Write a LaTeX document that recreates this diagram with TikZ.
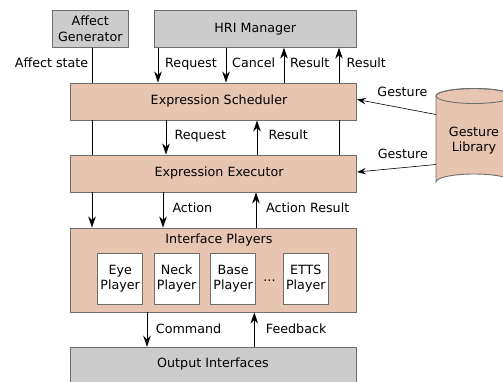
\documentclass[tikz,border=0pt]{standalone}
\usepackage{fontspec}
\setmainfont{DejaVu Sans}
\usetikzlibrary{arrows.meta}
\definecolor{peach}{RGB}{232,197,176}
\definecolor{boxgray}{RGB}{204,204,204}
\definecolor{edgegray}{RGB}{110,110,110}
\tikzset{
  every node/.style={font=\fontsize{12.7}{15.2}\selectfont},
  graybox/.style={draw=edgegray, line width=0.9pt, fill=boxgray, inner sep=0pt, align=center},
  peachbox/.style={draw=edgegray, line width=0.9pt, fill=peach, inner sep=0pt},
  playerbox/.style={draw=edgegray, line width=0.9pt, fill=white, inner sep=0pt, minimum width=45pt, minimum height=51pt, align=center},
  txt/.style={inner sep=0pt, text height=9.3pt, text depth=2.6pt},
  lbl/.style={txt, anchor=west},
  conn/.style={line width=0.9pt, black},
  arr/.style={conn, -{Stealth[length=11pt,width=7.5pt,inset=3.5pt]}},
  garr/.style={line width=0.6pt, black, -{Stealth[length=9pt,width=6.5pt,inset=3.5pt]}},
}
\begin{document}
\begin{tikzpicture}[x=1pt,y=-1pt]
\useasboundingbox (0,0) rectangle (503,381);
% boxes
\node[graybox, minimum width=76pt, minimum height=37pt] (aff) at (90.3,28.7) {Affect\\Generator};
\node[graybox, minimum width=202.7pt, minimum height=37pt] (hri) at (255.3,28.7) {HRI Manager};
\node[peachbox, minimum width=286.7pt, minimum height=37pt] (sch) at (213.3,101.5) {};
\node[txt] (scht) at (219,101.5) {Expression Scheduler};
\node[peachbox, minimum width=286.7pt, minimum height=37pt] (exe) at (213.3,173.5) {};
\node[txt] (exet) at (219,173.5) {Expression Executor};
\node[peachbox, minimum width=286.7pt, minimum height=84pt] (ip) at (213.3,270) {};
\node[txt] (ipt) at (219,240) {Interface Players};
\node[playerbox] (eye) at (120.2,278.8) {Eye\\Player};
\node[playerbox] (neck) at (176.7,278.8) {Neck\\Player};
\node[playerbox] (base) at (233.2,278.8) {Base\\Player};
\node[inner sep=0pt, anchor=base] (dots) at (269.5,281) {...};
\node[playerbox] (etts) at (305.8,278.8) {ETTS\\Player};
\node[graybox, minimum width=286.7pt, minimum height=35pt] (out) at (213.3,364.7) {};
\node[txt] (outt) at (213,346.5+18) {Output Interfaces};
% gesture library cylinder
\draw[draw=edgegray, line width=0.9pt, fill=peach]
  (436,96) -- (436,182) arc[start angle=180, end angle=360, x radius=38, y radius=8]
  -- (512,96) arc[start angle=0, end angle=-180, x radius=38, y radius=7.5] -- cycle;
\draw[draw=edgegray, line width=0.9pt] (474,96) ellipse [x radius=38, y radius=7.5];
\node[txt, align=center, text height=, text depth=] (gl) at (474,141) {Gesture\\Library};
\coordinate (g1) at (436,114.5);
\coordinate (g2) at (436,164.5);
% x positions
\coordinate (xa) at (92,0);
\coordinate (xreq) at (158,0);
\coordinate (xcan) at (226,0);
\coordinate (xres1) at (284,0);
\coordinate (xres2) at (339,0);
\coordinate (xreq2) at (166,0);
\coordinate (xres3) at (257,0);
\coordinate (xact) at (163,0);
\coordinate (xar) at (256,0);
\coordinate (xcmd) at (147,0);
\coordinate (xfb) at (254.3,0);
% connectors
\draw[conn] (aff.south -| xa) -- (sch.north -| xa);
\draw[conn] (sch.south -| xa) -- (exe.north -| xa);
\draw[arr] (exe.south -| xa) -- (ip.north -| xa);
\draw[arr] (hri.south -| xreq) -- (sch.north -| xreq);
\draw[arr] (hri.south -| xcan) -- (sch.north -| xcan);
\draw[arr] (sch.north -| xres1) -- (hri.south -| xres1);
\draw[arr] (sch.north -| xres2) -- (hri.south -| xres2);
\draw[conn] (exe.north -| xres2) -- (sch.south -| xres2);
\draw[arr] (sch.south -| xreq2) -- (exe.north -| xreq2);
\draw[arr] (exe.north -| xres3) -- (sch.south -| xres3);
\draw[arr] (exe.south -| xact) -- (ip.north -| xact);
\draw[arr] (ip.north -| xar) -- (exe.south -| xar);
\draw[arr] (ip.south -| xcmd) -- (out.north -| xcmd);
\draw[arr] (out.north -| xfb) -- (ip.south -| xfb);
\draw[garr] (g1) -- (sch.east |- 0,99.5);
\draw[garr] (g2) -- (exe.east |- 0,172);
% labels
\node[txt, anchor=east] (laff) at (88.5,64) {Affect state};
\node[lbl] (lreq) at (165,64) {Request};
\node[lbl] (lcan) at (232,64) {Cancel};
\node[lbl] (lres1) at (290,64) {Result};
\node[lbl] (lres2) at (346.5,64) {Result};
\node[lbl] (lreq2) at (174.3,136) {Request};
\node[lbl] (lres3) at (268.3,136) {Result};
\node[lbl] (lact) at (172.3,209.5) {Action};
\node[lbl] (lar) at (266,209.5) {Action Result};
\node[lbl] (lcmd) at (155.7,330) {Command};
\node[lbl] (lfb) at (265.7,330) {Feedback};
\node[txt] (lg1) at (402.5,93) {Gesture};
\node[txt] (lg2) at (402.8,155) {Gesture};
\end{tikzpicture}
\end{document}
